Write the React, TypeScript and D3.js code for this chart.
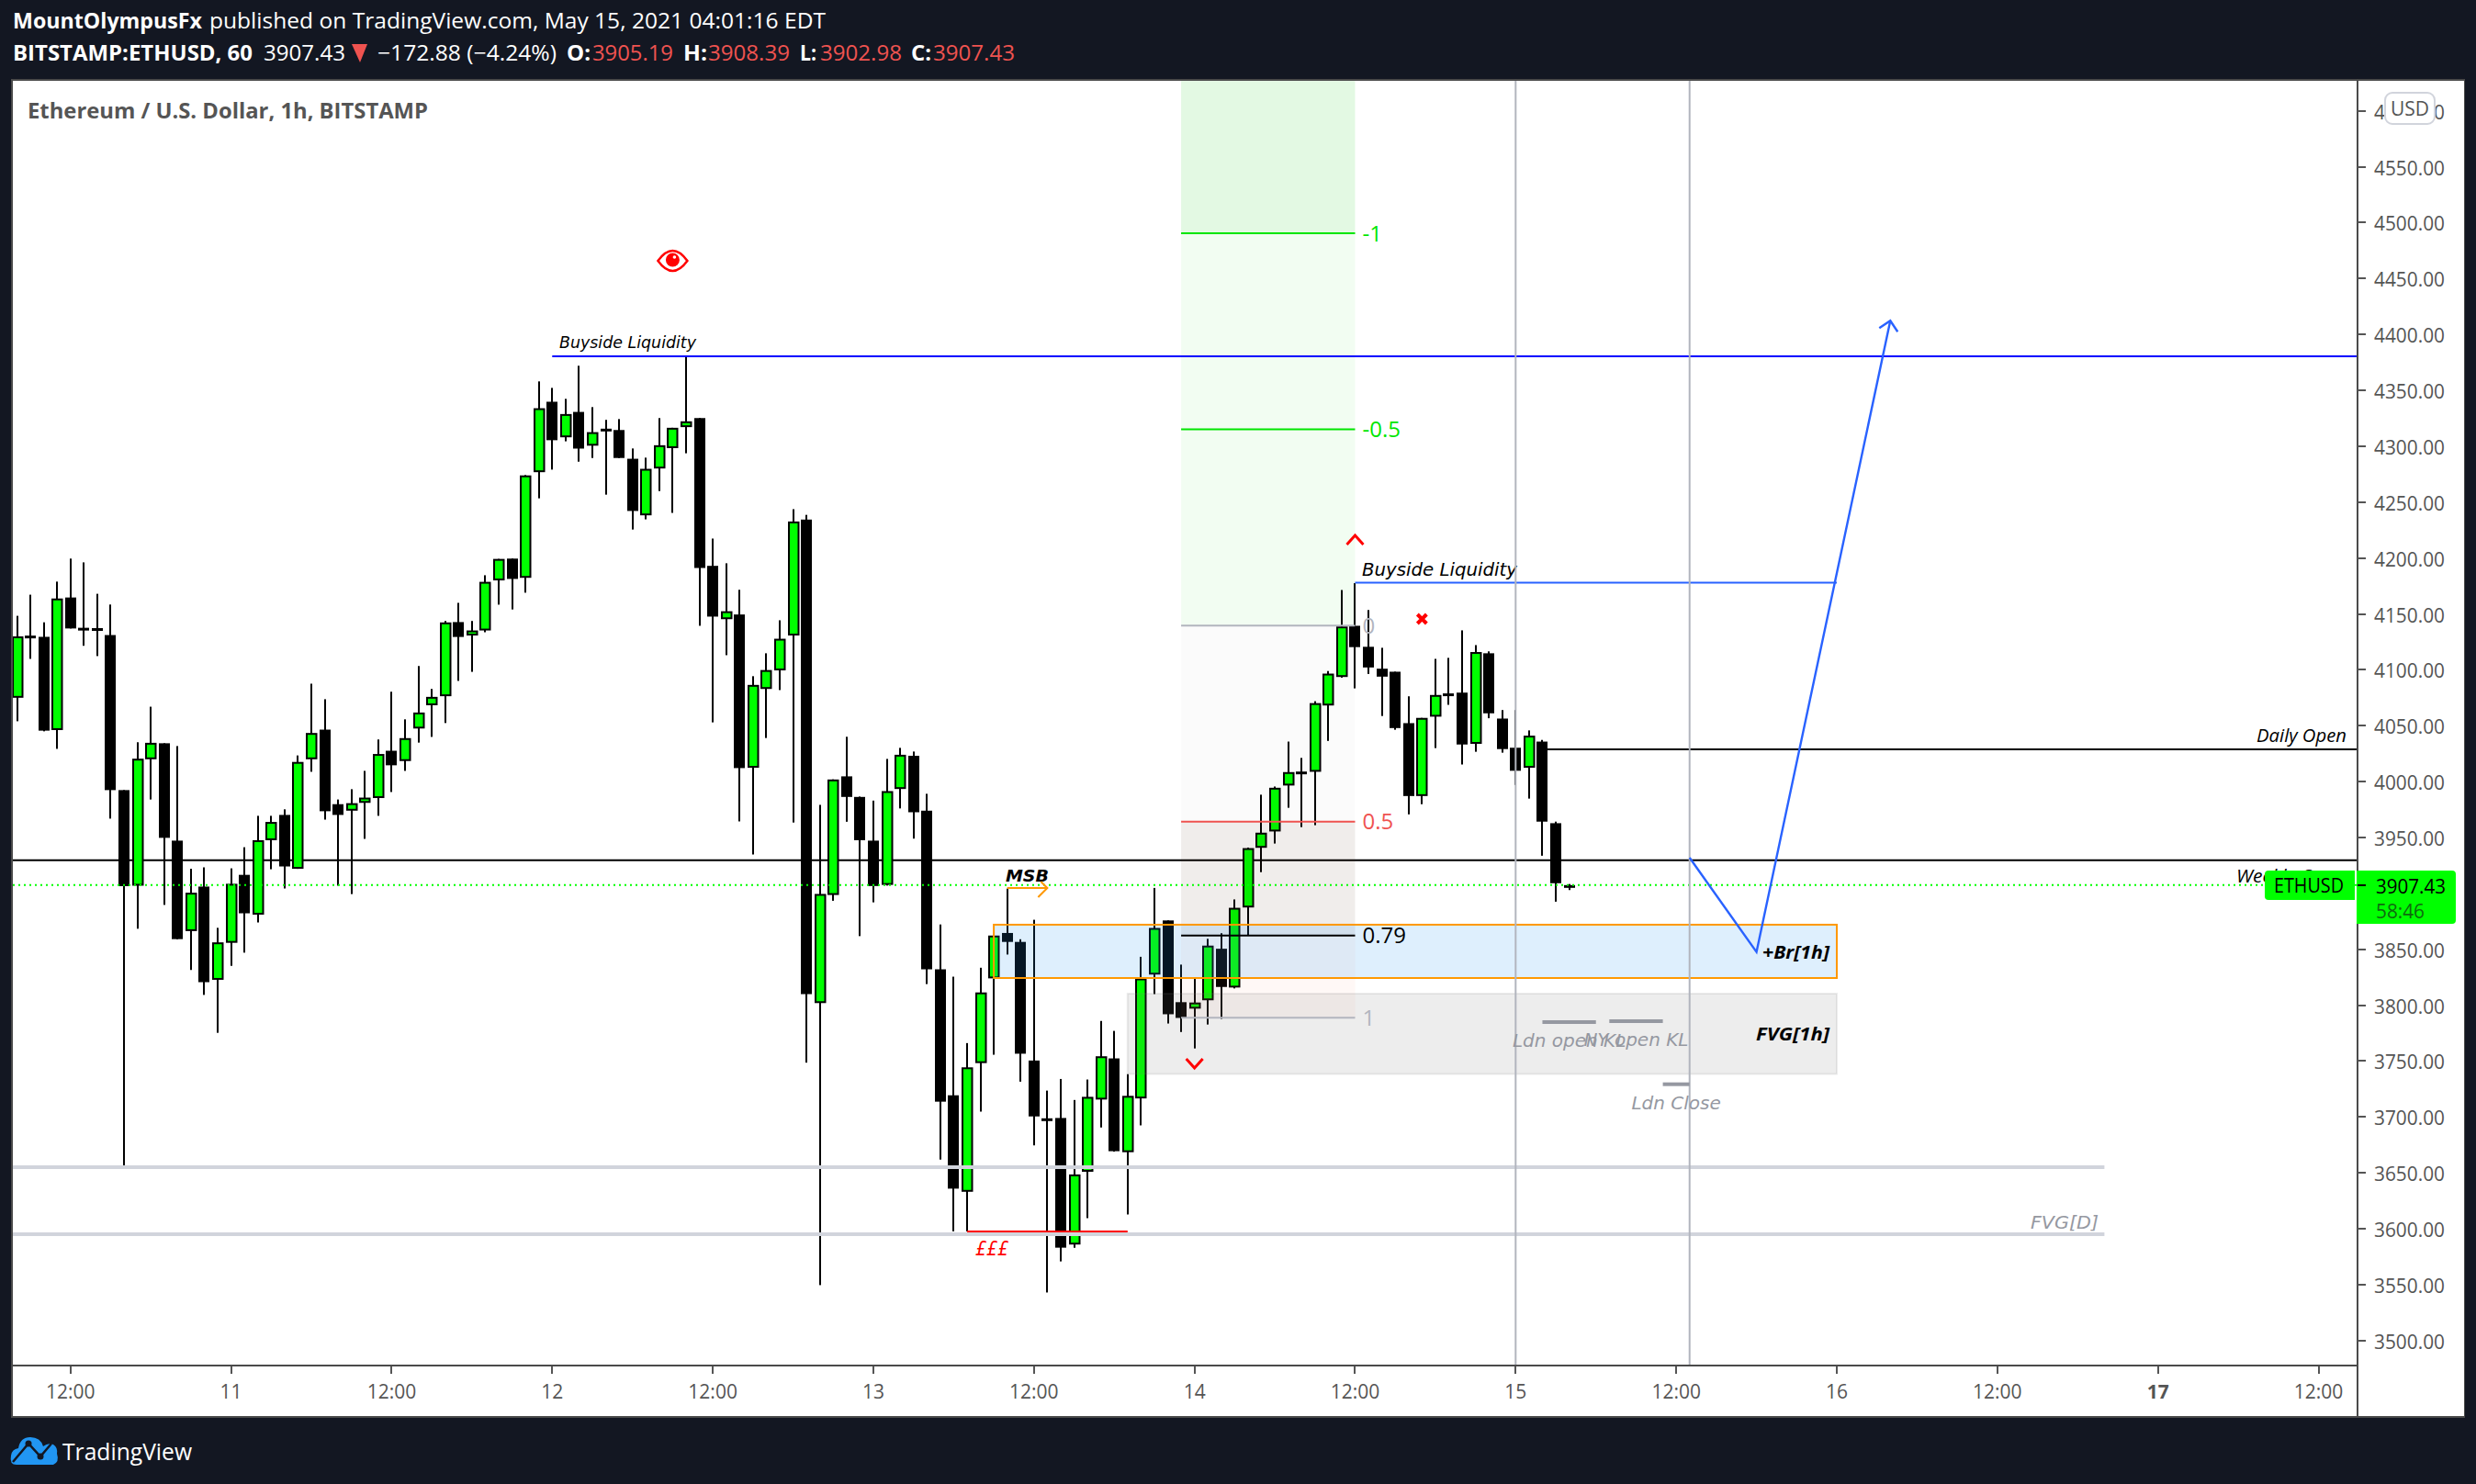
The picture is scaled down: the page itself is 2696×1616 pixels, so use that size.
import React from "react";
import * as d3 from "d3";

const opens = [4075.0,4130.6,4129.5,4046.1,4164.7,4137.6,4137.3,4131.1,3992.4,3906.9,4020.0,4034.3,3947.2,3866.3,3906.1,3822.7,3855.8,3916.6,3881.0,3947.6,3970.2,3922.0,4020.0,4046.5,3979.8,3974.0,3981.0,3985.3,4027.6,4018.4,
  4047.5,4068.3,4076.4,4142.7,4130.7,4135.2,4180.0,4199.5,4182.3,4276.8,4339.8,4308.0,4330.7,4300.5,4315.7,4314.5,4288.8,4238.2,4280.1,4298.3,4317.1,4325.2,4193.0,4145.3,4149.5,4012.4,4082.9,4099.5,4130.7,4234.4,
  3801.9,3898.6,4004.7,3986.3,3947.2,3907.6,3993.4,4023.1,3974.0,3832.1,3719.4,3633.1,3748.2,3824.0,3864.6,3856.6,3750.5,3698.8,3699.1,3585.9,3651.0,3715.6,3752.4,3668.5,3716.6,3827.4,3875.8,3802.7,3796.9,3804.4,
  3850.5,3815.8,3887.4,3940.8,3955.4,3996.5,4009.0,4008.8,4068.1,4093.6,4139.4,4120.6,4101.0,4098.3,4052.3,3987.1,4058.1,4078.9,4079.6,4033.8,4114.8,4056.4,4030.3,4012.4,4035.8,3962.8,3905.19];
const highs = [4148.3,4167.2,4142.5,4178.9,4199.5,4196.1,4168.0,4158.4,3992.4,4035.2,4067.0,4034.3,4031.8,3922.0,3923.3,3869.2,3922.4,3941.3,3969.4,3969.4,3975.2,4023.4,4087.6,4073.7,3984.0,3993.2,4009.6,4037.7,4080.4,4055.7,
  4103.4,4082.9,4143.7,4159.9,4143.7,4184.6,4199.2,4199.5,4274.2,4358.0,4352.2,4342.4,4372.0,4335.0,4323.6,4324.3,4298.0,4289.8,4325.2,4316.5,4380.1,4325.2,4217.4,4195.3,4171.6,4094.3,4114.8,4144.3,4243.7,4238.6,
  3979.2,4002.0,4040.1,3986.6,3983.0,4020.3,4030.2,4026.9,3989.1,3872.2,3825.5,3766.1,3833.5,3862.3,3904.3,3859.0,3876.4,3723.6,3734.0,3715.2,3733.5,3785.9,3777.0,3738.3,3843.3,3904.9,3875.8,3836.3,3823.8,3859.4,
  3864.4,3894.6,3941.0,3988.3,3995.6,4035.8,4021.2,4071.9,4098.9,4171.4,4177.5,4153.5,4119.7,4098.3,4076.3,4057.0,4109.8,4110.7,4135.3,4122.1,4116.5,4064.0,4064.0,4045.8,4037.3,3964.2,3908.39];
const lows = [4054.0,4109.8,4045.0,4029.3,4137.0,4121.5,4112.3,3966.9,3656.7,3868.4,3984.0,3889.7,3859.0,3831.5,3809.2,3775.3,3835.2,3847.0,3874.0,3921.6,3904.4,3922.0,4008.8,3966.0,3906.9,3899.4,3948.8,3969.4,3990.7,4009.6,
  4034.9,4040.0,4052.4,4090.1,4098.2,4133.6,4158.3,4154.0,4169.0,4253.4,4279.1,4304.4,4286.2,4289.5,4256.7,4289.5,4225.5,4234.6,4259.9,4240.4,4293.7,4139.4,4053.0,4113.1,3964.4,3934.8,4039.0,4081.9,3963.4,3748.6,
  3549.6,3893.4,3964.1,3861.8,3892.0,3907.0,3976.0,3949.0,3818.9,3661.9,3597.7,3597.7,3704.8,3755.7,3845.3,3731.6,3674.6,3543.0,3570.8,3583.0,3609.5,3690.6,3669.0,3612.8,3692.5,3809.9,3783.6,3776.0,3761.3,3782.7,
  3787.7,3815.0,3862.7,3919.0,3944.6,3976.6,3959.3,3961.0,4036.4,4093.0,4083.4,4096.3,4058.7,4046.4,3970.7,3979.8,4030.0,4068.7,4015.3,4026.7,4056.7,4025.9,3997.0,3984.8,3933.7,3892.6,3902.98];
const closes = [4129.9,4130.0,4045.6,4163.8,4137.0,4137.2,4136.8,3992.4,3906.5,4020.5,4034.7,3949.7,3859.1,3900.6,3820.6,3856.2,3908.6,3882.2,3947.6,3963.9,3924.1,4017.6,4043.5,3973.5,3970.2,3980.7,3985.7,4024.7,4014.6,4038.9,
  4061.8,4075.8,4142.4,4129.4,4135.2,4178.7,4199.2,4181.3,4273.9,4334.0,4305.4,4328.8,4297.9,4312.6,4315.3,4289.5,4242.1,4279.8,4300.9,4316.5,4322.3,4191.1,4147.6,4152.4,4012.1,4086.5,4099.8,4127.8,4232.7,3809.9,
  3899.5,4001.9,3986.3,3947.6,3906.6,3991.5,4024.0,3972.6,3832.1,3713.7,3635.9,3744.4,3811.4,3862.3,3856.6,3756.6,3700.5,3698.4,3583.1,3648.6,3718.0,3754.3,3669.4,3718.9,3823.9,3869.1,3791.9,3788.6,3802.4,3853.3,
  3816.3,3887.1,3940.5,3954.3,3994.5,4008.5,4008.6,4070.2,4096.6,4138.8,4120.3,4102.1,4093.9,4047.9,3987.1,4057.0,4077.5,4078.5,4033.2,4115.9,4061.1,4029.1,4009.7,4041.1,3964.2,3909.1,3907.43];

const priceTicks = [3500,3550,3600,3650,3700,3750,3800,3850,3900,3950,4000,4050,4100,4150,4200,4250,4300,4350,4400,4450,4500,4550,4600];
const timeTickBars = [4,16,28,40,52,64,76,88,100,112,124,136,148,160,172];
const timeTickLabels = ["12:00","11","12:00","12","12:00","13","12:00","14","12:00","15","12:00","16","12:00","17","12:00"];

const lastPrice = 3907.43;
const weeklyOpen = 3929.6;
const dailyOpen = 4028.9;
const dailyOpenBar = 114;
const buyside1 = { bar: 40, price: 4380.5 };
const buyside2 = { from: 100, to: 136, price: 4177.9 };
const fibFrom = 87, fibTo = 100, fib0 = 4139.6, fib1 = 3788.7;
const brBox = { from: 73, to: 136, hi: 3872.0, lo: 3824.3 };
const fvgBox = { from: 83, to: 136, hi: 3810.3, lo: 3738.5 };
const fvgD = { to: 156, levels: [3655.0, 3595.1] };
const sellside = { from: 71, to: 83, price: 3597.6 };
const msb = { from: 74, to: 77, price: 3904.8 };
const sessionBars = [112, 125];
const sessions = [
  { from: 114, to: 118, price: 3784.9, label: "Ldn open KL" },
  { from: 119, to: 123, price: 3785.7, label: "NY open KL" },
  { from: 123, to: 125, price: 3729.3, label: "Ldn Close" },
];
const pathBars = [125, 130, 140];
const pathPrices = [3931.9, 3847.6, 4412.3];
const eyeAt = { bar: 49, price: 4465.9 };
const crossAt = { bar: 105, price: 4145.5 };
const chevUp = { bar: 100, price: 4216.2 };
const chevDown = { bar: 88, price: 3748.0 };

const UI = "'Open Sans', sans-serif";
const OBL = "'DejaVu Sans', sans-serif";

const x = d3.scaleLinear().domain([0, 172]).range([18.5, 2524.5]);
const y = d3.scaleLinear().domain([3950, 4550]).range([912, 181.6]);
const bx = (i: number) => Math.round(x(i));
const py = (p: number) => Math.round(y(p));

function T({ x: tx, y: ty, w, size = 23, fill = "#000", weight = 400, italic = false, font = UI, anchor = "start", children }: any) {
  return (
    <text x={tx} y={ty} fontFamily={font} fontSize={size} fill={fill} fontWeight={weight}
      fontStyle={italic ? "italic" : "normal"} textAnchor={anchor} dominantBaseline="central"
      {...(w ? { textLength: w, lengthAdjust: "spacingAndGlyphs" } : {})}>{children}</text>
  );
}

function Candle({ i }: { i: number }) {
  const o = opens[i], h = highs[i], l = lows[i], c = closes[i];
  const cx = bx(i);
  const top = y(Math.max(o, c)), bot = y(Math.min(o, c));
  const up = c > o && bot - top >= 3;
  const hgt = Math.max(bot - top, 3);
  return (
    <g>
      <rect x={cx - 1} y={y(h)} width={2} height={Math.max(y(l) - y(h), 1)} fill="#000" />
      {up ? (
        <rect x={cx - 5} y={top + 1} width={10.5} height={Math.max(hgt - 2, 1)} fill="#00ff00" stroke="#000" strokeWidth={2} />
      ) : (
        <rect x={cx - 6} y={top} width={12} height={hgt} fill="#000" />
      )}
    </g>
  );
}

function Hline({ from, to, price, stroke, width = 2 }: any) {
  return <line x1={from} x2={to} y1={y(price) } y2={y(price)} stroke={stroke} strokeWidth={width} />;
}

export default function App() {
  const fibLevel = (r: number) => fib1 + (fib0 - fib1) * (1 - r);
  const fx0 = x(fibFrom), fx1 = x(fibTo);
  const band = (a: number, b: number, fill: string) => (
    <rect x={fx0} width={fx1 - fx0} y={y(a)} height={y(b) - y(a)} fill={fill} />
  );
  const fibLines = [
    { r: -1, stroke: "#00e600", label: "-1", fill: "#00e600" },
    { r: -0.5, stroke: "#00e600", label: "-0.5", fill: "#00e600" },
    { r: 0, stroke: "#b2b5be", label: "0", fill: "#b2b5be" },
    { r: 0.5, stroke: "#ef5350", label: "0.5", fill: "#ef5350" },
    { r: 0.79, stroke: "#000000", label: "0.79", fill: "#000000" },
    { r: 1, stroke: "#b2b5be", label: "1", fill: "#b2b5be" },
  ];
  const pathD = d3.line<number>().x((_, i) => x(pathBars[i])).y((p) => y(p))(pathPrices) as string;
  const tipX = x(pathBars[2]), tipY = y(pathPrices[2]);
  const eyeX = x(eyeAt.bar), eyeY = y(eyeAt.price);
  const crX = x(crossAt.bar), crY = y(crossAt.price);
  const up = { x: x(chevUp.bar), y: y(chevUp.price) };
  const down = { x: x(chevDown.bar), y: y(chevDown.price) };
  const msbY = y(msb.price), msbX0 = x(msb.from), msbX1 = x(msb.to);
  const plotL = 14, plotR = 2567, plotT = 88, plotB = 1486;

  return (
    <svg width={2696} height={1616} viewBox="0 0 2696 1616" style={{ position: "absolute", left: 0, top: 0, display: "block" }}>
      <rect width={2696} height={1616} fill="#131722" />
      <rect x={13} y={87} width={2670} height={1456} fill="#fff" stroke="#4a4a4a" strokeWidth={2} />
      <defs>
        <clipPath id="plot"><rect x={plotL} y={plotT} width={plotR - plotL} height={plotB - plotT} /></clipPath>
      </defs>

      {/* header */}
      <T x={14} y={22} w={206} size={23} fill="#fff" weight={700}>MountOlympusFx</T>
      <T x={228} y={22} w={671} size={23} fill="#fff">published on TradingView.com, May 15, 2021 04:01:16 EDT</T>
      <T x={14} y={57} w={261} size={23} fill="#fff" weight={700}>BITSTAMP:ETHUSD, 60</T>
      <T x={287} y={57} w={89} size={23} fill="#fff">3907.43</T>
      <path d="M383 48 L400 48 L392 68 Z" fill="#ef5350" />
      <T x={411} y={57} w={195} size={23} fill="#fff">−172.88 (−4.24%)</T>
      <T x={617} y={57} w={26} size={23} fill="#fff" weight={700}>O:</T>
      <T x={645} y={57} w={88} size={23} fill="#ef5350">3905.19</T>
      <T x={744} y={57} w={26} size={23} fill="#fff" weight={700}>H:</T>
      <T x={771} y={57} w={89} size={23} fill="#ef5350">3908.39</T>
      <T x={871} y={57} w={18} size={23} fill="#fff" weight={700}>L:</T>
      <T x={893} y={57} w={89} size={23} fill="#ef5350">3902.98</T>
      <T x={992} y={57} w={22} size={23} fill="#fff" weight={700}>C:</T>
      <T x={1016} y={57} w={89} size={23} fill="#ef5350">3907.43</T>

      <T x={30} y={119} w={436} size={24} fill="#555" weight={700}>Ethereum / U.S. Dollar, 1h, BITSTAMP</T>

      <g clipPath="url(#plot)">
        <Hline from={plotL} to={plotR} price={weeklyOpen} stroke="#000" />
        <Hline from={x(dailyOpenBar)} to={plotR} price={dailyOpen} stroke="#000" />
        {opens.map((_, i) => <Candle key={i} i={i} />)}

        {/* fib fills */}
        <rect x={fx0} width={fx1 - fx0} y={plotT} height={y(fibLevel(-1)) - plotT} fill="rgba(0,200,0,0.11)" />
        {band(fibLevel(-1), fibLevel(0), "rgba(0,220,0,0.05)")}
        {band(fibLevel(0), fibLevel(0.5), "rgba(0,0,0,0.014)")}
        {band(fibLevel(0.5), fibLevel(0.79), "rgba(60,30,0,0.08)")}
        {band(fibLevel(0.79), fibLevel(1), "rgba(255,100,50,0.045)")}

        {/* boxes */}
        <rect x={x(fvgBox.from)} y={y(fvgBox.hi)} width={x(fvgBox.to) - x(fvgBox.from)} height={y(fvgBox.lo) - y(fvgBox.hi)}
          fill="rgba(110,110,110,0.125)" stroke="rgba(120,120,120,0.14)" strokeWidth={2} />
        <rect x={x(brBox.from)} y={y(brBox.hi)} width={x(brBox.to) - x(brBox.from)} height={y(brBox.lo) - y(brBox.hi)}
          fill="rgba(33,150,243,0.15)" stroke="#ff9800" strokeWidth={2} />

        {/* gray FVG[D] lines */}
        {fvgD.levels.map((p) => <Hline key={p} from={plotL} to={x(fvgD.to)} price={p} stroke="#d1d4dc" width={4} />)}
        <T x={2285} y={1331} w={74} size={19} fill="#9598a1" italic font={OBL} anchor="end">FVG[D]</T>

        {/* sell side */}
        <Hline from={x(sellside.from)} to={x(sellside.to)} price={sellside.price} stroke="#ff0000" />
        <T x={1062} y={1360} w={36} size={21} fill="#ff0000" italic font={OBL}>£££</T>

        {/* buyside */}
        <Hline from={x(buyside1.bar)} to={plotR} price={buyside1.price} stroke="#0000ff" />
        <T x={609} y={372} w={149} size={18} fill="#000" italic font={OBL}>Buyside Liquidity</T>
        <Hline from={x(buyside2.from)} to={x(buyside2.to)} price={buyside2.price} stroke="#2962ff" />
        <T x={1483} y={620} w={169} size={20} fill="#000" italic font={OBL}>Buyside Liquidity</T>

        {/* fib lines + labels */}
        {fibLines.map((f) => (
          <g key={f.label}>
            <Hline from={fx0} to={fx1} price={fibLevel(f.r)} stroke={f.stroke} />
            <T x={fx1 + 8} y={y(fibLevel(f.r)) - 1} size={24} fill={f.fill}>{f.label}</T>
          </g>
        ))}

        {/* price line */}
        <line x1={plotL} x2={plotR} y1={y(lastPrice)} y2={y(lastPrice)} stroke="#00ff00" strokeWidth={2} strokeDasharray="2 4" />

        {/* session lines */}
        {sessionBars.map((b) => <line key={b} x1={x(b)} x2={x(b)} y1={plotT} y2={plotB} stroke="#b2b5be" strokeWidth={2} />)}
        {sessions.map((s) => (
          <g key={s.label}>
            <Hline from={x(s.from)} to={x(s.to)} price={s.price} stroke="#9598a1" width={4} />
            <T x={(x(s.from) + x(s.to)) / 2} y={y(s.price) + 20} size={20} fill="#9598a1" italic font={OBL} anchor="middle">{s.label}</T>
          </g>
        ))}

        {/* labels in boxes */}
        <T x={1992} y={1037} w={73} size={19} fill="#000" weight={700} italic anchor="end">+Br[1h]</T>
        <T x={1992} y={1126} w={80} size={19} fill="#000" weight={700} italic anchor="end">FVG[1h]</T>

        {/* MSB */}
        <T x={1095} y={953} w={47} size={18} fill="#000" weight={700} italic font={OBL}>MSB</T>
        <path d={`M${msbX0} ${msbY} H${msbX1} M${msbX1 - 10} ${msbY + 10} L${msbX1} ${msbY} L${msbX1 - 7} ${msbY - 7}`} fill="none" stroke="#ff9800" strokeWidth={2} />

        {/* path arrow */}
        <path d={pathD} fill="none" stroke="#2962ff" strokeWidth={2.4} />
        <path d={`M${tipX - 12} ${tipY + 8} L${tipX} ${tipY} L${tipX + 8} ${tipY + 12}`} fill="none" stroke="#2962ff" strokeWidth={2.4} />

        {/* markers */}
        <path d={`M${up.x - 9} ${up.y + 5} L${up.x} ${up.y - 5} L${up.x + 9} ${up.y + 5}`} fill="none" stroke="#ff0000" strokeWidth={3} />
        <path d={`M${down.x - 9} ${down.y - 5} L${down.x} ${down.y + 5} L${down.x + 9} ${down.y - 5}`} fill="none" stroke="#ff0000" strokeWidth={3} />
        <path d={`M${crX - 5} ${crY - 5} L${crX + 5} ${crY + 5} M${crX + 5} ${crY - 5} L${crX - 5} ${crY + 5}`} stroke="#ff0000" strokeWidth={4} />
        <path d={`M${eyeX - 16} ${eyeY} Q${eyeX} ${eyeY - 22} ${eyeX + 16} ${eyeY} Q${eyeX} ${eyeY + 22} ${eyeX - 16} ${eyeY} Z`} fill="#fff" stroke="#ff0000" strokeWidth={2.5} />
        <circle cx={eyeX} cy={eyeY - 1} r={7.5} fill="#ff0000" />
        <circle cx={eyeX + 2} cy={eyeY - 4} r={1.8} fill="#fff" />

        <T x={2555} y={800} w={98} size={20} fill="#000" italic anchor="end">Daily Open</T>
        <T x={2555} y={953} w={120} size={20} fill="#000" italic anchor="end">Weekly Open</T>
      </g>

      {/* axes */}
      <rect x={2568} y={88} width={115} height={1454} fill="#fff" />
      <line x1={plotR} x2={plotR} y1={88} y2={1542} stroke="#4a4a4a" strokeWidth={2} />
      <line x1={14} x2={2567} y1={1487} y2={1487} stroke="#4a4a4a" strokeWidth={2} />
      {priceTicks.map((p) => (
        <g key={p}>
          <line x1={2567} x2={2576} y1={py(p)} y2={py(p)} stroke="#555" strokeWidth={2} />
          <T x={2585} y={y(p)} w={77} size={22} fill="#555">{p.toFixed(2)}</T>
        </g>
      ))}
      {timeTickBars.map((b, k) => (
        <g key={b}>
          <line x1={bx(b)} x2={bx(b)} y1={1488} y2={1496} stroke="#555" strokeWidth={2} />
          <T x={x(b)} y={1515} size={21} fill="#555" anchor="middle" weight={timeTickLabels[k] === "17" ? 700 : 400}>{timeTickLabels[k]}</T>
        </g>
      ))}

      {/* USD badge */}
      <rect x={2597} y={101} width={54} height={34} rx={8} fill="#fff" stroke="#d1d4dc" strokeWidth={2} />
      <T x={2624} y={118} size={21} fill="#555" anchor="middle">USD</T>

      {/* last price badges */}
      <path d="M2470 948 H2564 V980 H2470 Q2466 980 2466 976 V952 Q2466 948 2470 948 Z" fill="#00ff00" />
      <T x={2476} y={964} w={76} size={21} fill="#000">ETHUSD</T>
      <path d="M2566 948 H2670 Q2674 948 2674 952 V1002 Q2674 1006 2670 1006 H2566 Z" fill="#00ff00" />
      <line x1={2567} x2={2576} y1={964} y2={964} stroke="#000" strokeWidth={2} />
      <T x={2587} y={964} w={76} size={22} fill="#000">3907.43</T>
      <T x={2587} y={991} w={53} size={22} fill="#0f6b0f">58:46</T>

      {/* footer */}
      <path d="M18 1595 Q10 1595 12 1585 Q13 1578 20 1577 Q22 1565 33 1565 Q44 1565 47 1575 Q52 1571 58 1573 Q63 1576 62 1583 Q65 1592 58 1595 Z" fill="#2196f3" />
      <path d="M14 1592 L31 1572 L44 1586 L56 1572" fill="none" stroke="#131722" strokeWidth={2.5} />
      <circle cx={31} cy={1572} r={3.5} fill="#131722" />
      <circle cx={44} cy={1586} r={3.5} fill="#131722" />
      <T x={68} y={1580} w={141} size={25} fill="#fff">TradingView</T>
    </svg>
  );
}
